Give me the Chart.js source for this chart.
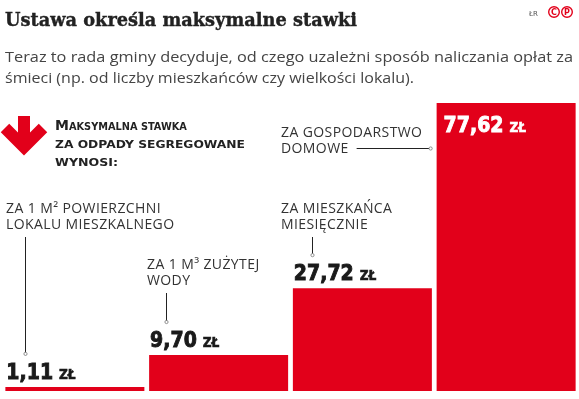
<!DOCTYPE html>
<html>
<head>
<meta charset="utf-8">
<script src="https://cdn.jsdelivr.net/npm/chart.js@4.4.0/dist/chart.umd.min.js"></script>
<style>
  body { margin: 0; background: #fff; }
  #wrap { position: relative; width: 579px; height: 399px; }
</style>
</head>
<body>
<div id="wrap"><canvas id="myChart" width="579" height="399"></canvas></div>
<script>
// dane z grafiki
var categories = ['ZA 1 M² POWIERZCHNI|LOKALU MIESZKALNEGO', 'ZA 1 M³ ZUŻYTEJ|WODY', 'ZA MIESZKAŃCA|MIESIĘCZNIE', 'ZA GOSPODARSTWO|DOMOWE'];
var values = [1.11, 9.70, 27.72, 77.62];
var valueLabels = ['1,11', '9,70', '27,72', '77,62'];
var unit = 'ZŁ';

var title = 'Ustawa określa maksymalne stawki';
var subtitle = ['Teraz to rada gminy decyduje, od czego uzależni sposób naliczania opłat za',
                'śmieci (np. od liczby mieszkańców czy wielkości lokalu).'];
var intro = ['MAKSYMALNA STAWKA', 'ZA ODPADY SEGREGOWANE', 'WYNOSI:'];

var RED = '#e2001a';

// gdzie stoja podpisy kategorii (x, linia bazowa) i x kreski
var labelPos = [[6, 213], [147, 269], [281, 213], [281, 137]];
var connX = [25, 166, 312];

function fitText(ctx, text, x, y, w, bold) {
    var m = ctx.measureText(text).width;
    ctx.save();
    ctx.translate(x, y);
    ctx.scale(w / m, 1);
    ctx.fillText(text, 0, 0);
    if (bold) {
        ctx.lineWidth = bold;
        ctx.strokeStyle = ctx.fillStyle;
        ctx.strokeText(text, 0, 0);
    }
    ctx.restore();
}

function dot(ctx, x, y) {
    ctx.beginPath();
    ctx.arc(x, y, 1.6, 0, Math.PI * 2);
    ctx.fillStyle = '#fff';
    ctx.fill();
    ctx.strokeStyle = '#777';
    ctx.lineWidth = 0.8;
    ctx.stroke();
}

var decor = {
    id: 'decor',
    afterDatasetsDraw: function (chart) {
        var ctx = chart.ctx;
        var bars = chart.getDatasetMeta(0).data;
        ctx.save();
        ctx.textBaseline = 'alphabetic';

        // naglowek
        ctx.fillStyle = '#222';
        ctx.font = 'bold 19px "DejaVu Serif"';
        fitText(ctx, title, 5, 26, 352, 0.4);

        ctx.fillStyle = '#444';
        ctx.font = '15px "Open Sans"';
        fitText(ctx, subtitle[0], 5, 62, 568);
        fitText(ctx, subtitle[1], 5, 83, 409);

        ctx.fillStyle = '#555';
        ctx.font = '7px "DejaVu Sans"';
        ctx.fillText('ŁR', 529, 16);
        ctx.strokeStyle = RED;
        ctx.fillStyle = RED;
        ctx.lineWidth = 1.4;
        ctx.font = 'bold 8px "DejaVu Sans"';
        ctx.textAlign = 'center';
        [['C', 554], ['P', 567]].forEach(function (c) {
            ctx.beginPath();
            ctx.arc(c[1], 12, 5.3, 0, Math.PI * 2);
            ctx.stroke();
            ctx.fillText(c[0], c[1], 15);
        });
        ctx.textAlign = 'left';

        // strzalka
        ctx.strokeStyle = RED;
        ctx.lineWidth = 12;
        ctx.lineJoin = 'miter';
        ctx.beginPath();
        ctx.moveTo(24, 116);
        ctx.lineTo(24, 146);
        ctx.stroke();
        ctx.beginPath();
        ctx.moveTo(5, 128);
        ctx.lineTo(24, 147);
        ctx.lineTo(43, 128);
        ctx.stroke();

        // tekst wprowadzenia
        ctx.fillStyle = '#222';
        ctx.font = 'bold 14px "DejaVu Sans"';
        ctx.fillText('M', 55, 130);
        var mw = ctx.measureText('M').width;
        ctx.font = 'bold 10.5px "DejaVu Sans"';
        fitText(ctx, intro[0].slice(1), 55 + mw, 130, 118);
        fitText(ctx, intro[1], 55, 148, 190);
        fitText(ctx, intro[2], 55, 166, 63);

        // podpisy i wartosci
        bars.forEach(function (bar, i) {
            var left = bar.x - bar.width / 2;
            var inside = bar.base - bar.y > 200;
            var vx = inside ? left + 7 : left + 1;
            var vy = inside ? bar.y + 29 : bar.y - 8;

            ctx.fillStyle = inside ? '#fff' : '#1a1a1a';
            ctx.font = 'bold 22px "DejaVu Sans"';
            var w = ctx.measureText(valueLabels[i]).width * 0.86;
            fitText(ctx, valueLabels[i], vx, vy, w, 1);
            ctx.font = 'bold 13.5px "DejaVu Sans"';
            var uw = ctx.measureText(unit).width;
            fitText(ctx, unit, vx + w + 6, vy, uw * 0.9, 0.6);

            var lines = categories[i].split('|');
            var p = labelPos[i];
            ctx.fillStyle = '#333';
            ctx.font = '14px "Open Sans"';
            ctx.letterSpacing = '0.4px';
            lines.forEach(function (l, k) {
                ctx.fillText(l, p[0], p[1] + k * 16);
            });

            ctx.strokeStyle = '#222';
            ctx.lineWidth = 1;
            if (inside) {
                var lw = ctx.measureText(lines[1]).width;
                var hy = p[1] + 16 - 4.5;
                ctx.beginPath();
                ctx.moveTo(p[0] + lw + 8, hy);
                ctx.lineTo(left - 6, hy);
                ctx.stroke();
                dot(ctx, left - 6, hy);
            } else {
                var cx = connX[i] + 0.5;
                var top = p[1] + 16 + 8;
                var end = vy - 25;
                ctx.beginPath();
                ctx.moveTo(cx, top);
                ctx.lineTo(cx, end);
                ctx.stroke();
                dot(ctx, cx, end);
            }
            ctx.letterSpacing = '0px';
        });
        ctx.restore();
    }
};

var ctx = document.getElementById('myChart').getContext('2d');
var myChart = new Chart(ctx, {
    type: 'bar',
    data: {
        labels: categories,
        datasets: [{
            data: values,
            backgroundColor: RED,
            borderWidth: 0,
            barPercentage: 0.967,
            categoryPercentage: 1
        }]
    },
    options: {
        responsive: false,
        animation: false,
        layout: { padding: { top: 103, bottom: 8, left: 3, right: 1 } },
        plugins: { legend: { display: false }, tooltip: { enabled: false } },
        scales: {
            x: { display: false },
            y: { display: false, min: 0, max: 77.62 }
        }
    },
    plugins: [decor]
});
</script>
</body>
</html>
